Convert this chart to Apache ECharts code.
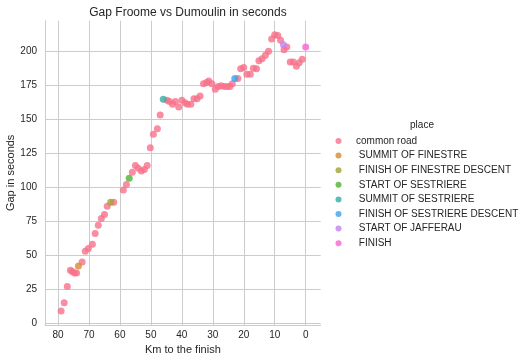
<!DOCTYPE html>
<html>
<head>
<meta charset="utf-8">
<script src="https://cdn.jsdelivr.net/npm/echarts@6/dist/echarts.min.js"></script>
<style>html,body{margin:0;padding:0;background:#fff}#c{width:525px;height:362px}</style>
</head>
<body>
<div id="c"></div>
<script>
var places = ['common road', ' SUMMIT OF FINESTRE', ' FINISH OF FINESTRE DESCENT', ' START OF SESTRIERE',
  ' SUMMIT OF SESTRIERE', ' FINISH OF SESTRIERE DESCENT', ' START OF JAFFERAU', ' FINISH'];
var colors = ['#f77189', '#d58c32', '#a4a031', '#50b131', '#36ada4', '#3ba3ec', '#bb83f4', '#f564d4'];

var kmCommon = [79, 78, 77, 76, 75.4, 74.7, 74, 72.2, 71.2, 70.2, 68.9, 68, 67, 66, 65, 64.1, 62,
  58.9, 57.9, 56, 55, 54.1, 53.1, 52.1, 51.2, 50.2, 49.2, 47.9, 47,
  44.8, 44, 43, 42.1, 41, 40, 39, 38.2, 37.1, 36.1, 35.1, 34.1, 33, 32, 31.3, 30.3, 29.2, 28.3, 27.3, 26.3, 25.3, 24.5, 23.7,
  21.9, 21, 20, 19, 17.9, 16.9, 15.9, 15.1, 14.1, 13, 12, 11, 10, 9, 8.1, 7, 6.1, 5, 4, 3, 2.1, 1.1];
var gapCommon = [9, 15, 27, 39, 38, 37, 37, 45, 53, 55, 58, 66, 72, 77, 80, 86, 89,
  98, 102, 111, 116, 114, 112, 113, 116, 129, 139, 143, 153,
  164, 163, 161, 163, 159, 164, 162, 161, 161, 165, 165, 167, 176, 177, 178, 176, 172, 174, 174.5, 174, 174, 174, 176,
  180, 187, 188, 183, 183, 187.5, 187, 193, 194.5, 197, 200, 209, 212, 211.5, 208, 201, 203, 192, 192, 189, 191.5, 194];

// one point for each named place on the route
var kmPlaces = [73.4, 63, 57, 46, 22.9, 7.2, 0];
var gapPlaces = [42, 89, 106.5, 164.7, 180, 204.7, 203];

var xTicks = [80, 70, 60, 50, 40, 30, 20, 10, 0];
var yTicks = [0, 25, 50, 75, 100, 125, 150, 175, 200];

var FONT = "'Liberation Sans', Arial, sans-serif";
var TXT = '#262626';
var GRID = '#cccccc';

var series = [];
series.push({
  name: places[0], type: 'scatter', symbolSize: 7,
  itemStyle: { color: colors[0], opacity: 0.8 },
  data: kmCommon.map(function (k, i) { return [k, gapCommon[i]]; })
});
for (var i = 0; i < kmPlaces.length; i++) {
  series.push({
    name: places[i + 1], type: 'scatter', symbolSize: 7,
    itemStyle: { color: colors[i + 1], opacity: 0.8 },
    data: [[kmPlaces[i], gapPlaces[i]]]
  });
}

var chart = echarts.init(document.getElementById('c'), null, { renderer: 'canvas' });
chart.setOption({
  animation: false,
  backgroundColor: '#ffffff',
  textStyle: { fontFamily: FONT },
  title: {
    text: 'Gap Froome vs Dumoulin in seconds',
    left: 183, top: 2, textAlign: 'center',
    textStyle: { fontFamily: FONT, fontSize: 12, fontWeight: 'normal', color: TXT }
  },
  graphic: [{
    type: 'text', x: 422, y: 125,
    style: { text: 'place', textAlign: 'center', textVerticalAlign: 'middle', fontFamily: FONT, fontSize: 10, fill: TXT }
  }],
  legend: {
    orient: 'vertical', left: 330.5, top: 130,
    itemWidth: 25, itemHeight: 6, itemGap: 2.6, icon: 'circle',
    textStyle: { fontFamily: FONT, fontSize: 10, color: TXT, lineHeight: 12 },
    data: places.map(function (p, i) { return { name: p, itemStyle: { color: colors[i], opacity: 0.8 } }; })
  },
  grid: { left: 45, top: 20.7, width: 275.7, height: 304.3, containLabel: false, outerBoundsMode: 'none' },
  xAxis: {
    type: 'value', inverse: true, min: -4.85, max: 84.2,
    name: 'Km to the finish', nameLocation: 'middle', nameGap: 19, nameMoveOverlap: false,
    nameTextStyle: { fontFamily: FONT, fontSize: 11, color: TXT },
    axisLine: { show: true, onZero: false, lineStyle: { color: GRID, width: 1 } },
    axisTick: { show: false, customValues: xTicks },
    axisLabel: { fontFamily: FONT, fontSize: 10, color: TXT, margin: 5, customValues: xTicks },
    splitLine: { show: true, lineStyle: { color: GRID, width: 1 } }
  },
  yAxis: {
    type: 'value', min: -1.3, max: 222.4,
    name: 'Gap in seconds', nameLocation: 'middle', nameGap: 29, nameRotate: 90, nameMoveOverlap: false,
    nameTextStyle: { fontFamily: FONT, fontSize: 11, color: TXT },
    axisLine: { show: true, onZero: false, lineStyle: { color: GRID, width: 1 } },
    axisTick: { show: false, customValues: yTicks },
    axisLabel: { fontFamily: FONT, fontSize: 10, color: TXT, margin: 8, customValues: yTicks },
    splitLine: { show: true, lineStyle: { color: GRID, width: 1 } }
  },
  series: series
});
</script>
</body>
</html>
